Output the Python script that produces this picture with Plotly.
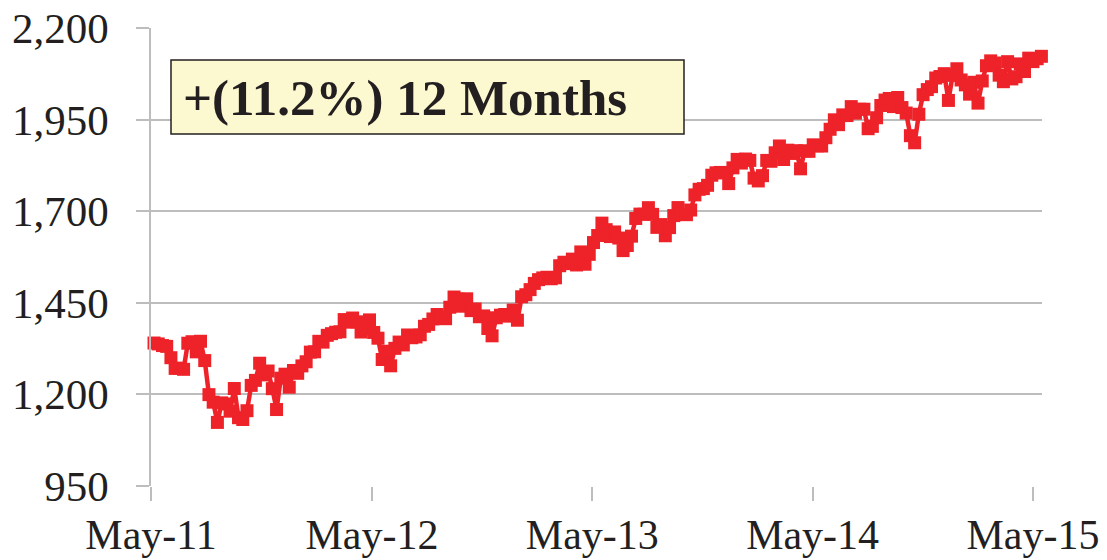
import plotly.graph_objects as go
import pandas as pd

# Weekly closes (Friday), May 2011 - May 2015
start_date = "2011-05-06"
values = [
    # 2011
    1340.20, 1337.77, 1333.27, 1331.10, 1300.16, 1270.98, 1271.50, 1268.45,
    1339.67, 1343.80, 1316.14, 1345.02, 1292.28, 1199.38, 1178.81, 1123.53,
    1176.80, 1173.97, 1154.23, 1216.01, 1136.43, 1131.42, 1155.46, 1224.58,
    1238.25, 1285.09, 1253.23, 1263.85, 1215.65, 1158.67, 1244.28, 1255.19,
    1219.66, 1265.33, 1257.60,
    # 2012
    1277.81, 1289.09, 1315.38, 1316.33, 1344.90, 1342.64, 1361.23, 1365.74,
    1369.63, 1370.87, 1404.17, 1397.11, 1408.47, 1398.08, 1370.26, 1378.53,
    1403.36, 1369.10, 1353.39, 1295.22, 1317.82, 1278.04, 1325.66, 1342.84,
    1335.02, 1362.16, 1354.68, 1356.78, 1362.66, 1385.97, 1390.99, 1405.87,
    1418.16, 1411.13, 1406.58, 1437.92, 1465.77, 1460.15, 1440.67, 1460.93,
    1428.59, 1433.19, 1411.94, 1414.20, 1379.85, 1359.88, 1409.15, 1416.18,
    1418.07, 1413.58, 1430.15, 1402.43,
    # 2013
    1466.47, 1472.05, 1485.98, 1502.96, 1513.17, 1517.93, 1519.79, 1515.60,
    1518.20, 1551.18, 1560.70, 1556.89, 1569.19, 1553.28, 1588.85, 1555.25,
    1582.24, 1614.42, 1633.70, 1667.47, 1649.60, 1630.74, 1643.38, 1626.73,
    1592.43, 1606.28, 1631.89, 1680.19, 1692.09, 1691.65, 1709.67, 1691.42,
    1655.83, 1663.50, 1632.97, 1655.17, 1687.99, 1709.91, 1691.75, 1690.50,
    1703.20, 1744.50, 1759.77, 1761.64, 1770.61, 1798.18, 1804.76, 1805.81,
    1805.09, 1775.32, 1818.32, 1841.40,
    # 2014
    1831.37, 1842.37, 1838.70, 1790.29, 1782.59, 1797.02, 1838.63, 1836.25,
    1859.45, 1878.04, 1841.13, 1866.52, 1857.62, 1865.09, 1815.69, 1864.85,
    1863.40, 1881.14, 1878.48, 1877.86, 1900.53, 1923.57, 1949.44, 1936.16,
    1962.87, 1960.96, 1985.44, 1967.57, 1978.22, 1978.34, 1925.15, 1931.59,
    1955.06, 1988.40, 2003.37, 2007.71, 1985.54, 2010.40, 1982.85, 1967.90,
    1906.13, 1886.76, 1964.58, 2018.05, 2031.92, 2039.82, 2063.50, 2067.56,
    2075.37, 2002.33, 2070.65, 2088.77,
    # 2015
    2058.20, 2044.81, 2019.42, 2051.82, 1994.99, 2055.47, 2096.99, 2110.30,
    2104.50, 2071.26, 2053.40, 2108.10, 2061.02, 2066.96, 2102.06, 2081.18,
    2117.69, 2108.29, 2116.10, 2122.73,
]
dates = pd.date_range(start_date, periods=len(values), freq="7D")

tick_dates = ["2011-05-01", "2012-05-01", "2013-05-01", "2014-05-01", "2015-05-01"]
tick_labels = ["May-11", "May-12", "May-13", "May-14", "May-15"]
y_ticks = [950, 1200, 1450, 1700, 1950, 2200]
note_text = "+(11.2%) 12 Months"

RED = "#EE2229"
GRID = "#BDBDBD"
FONT = "Liberation Serif, Times New Roman, serif"

fig = go.Figure()
fig.add_trace(go.Scatter(
    x=dates, y=values, mode="lines+markers",
    line=dict(color=RED, width=4.5),
    marker=dict(symbol="square", size=13, color=RED),
    hoverinfo="skip", showlegend=False, cliponaxis=False,
))

fig.update_layout(
    width=1107, height=560,
    margin=dict(l=151, r=65, t=28, b=74),
    paper_bgcolor="white", plot_bgcolor="white",
    font=dict(family=FONT, color="#231F20"),
    xaxis=dict(
        type="date", range=["2011-05-01", "2015-05-16"],
        tickvals=tick_dates, ticktext=tick_labels,
        tickfont=dict(size=42, family=FONT, color="#231F20"),
        showgrid=False, zeroline=False,
        showline=False, automargin=False,
        ticks="outside", ticklen=14, tickcolor=GRID, tickwidth=1.5,
        ticklabelstandoff=-2,
    ),
    yaxis=dict(
        range=[950, 2200], tickvals=y_ticks, tickformat=",",
        tickfont=dict(size=43, family=FONT, color="#231F20"),
        showgrid=True, gridcolor=GRID, gridwidth=1.5,
        zeroline=False, automargin=False,
        showline=True, linecolor=GRID, linewidth=1.5,
        ticks="outside", ticklen=13, tickcolor=GRID, tickwidth=1.5,
        ticklabelstandoff=19,
    ),
)

# annotation box
fig.add_shape(
    type="rect", xref="paper", yref="paper",
    x0=(171 - 151) / 891, x1=(684 - 151) / 891,
    y0=(486 - 134) / 458, y1=(486 - 60) / 458,
    fillcolor="#FCF8CF", line=dict(color="#231F20", width=1.5),
    layer="above",
)
fig.add_annotation(
    xref="paper", yref="paper",
    x=(181 - 151) / 891, y=(486 - 98) / 458,
    xanchor="left", yanchor="middle",
    text=f"<b>{note_text}</b>", showarrow=False,
    font=dict(size=51, family=FONT, color="#231F20"),
)

fig.write_html(
    "out.html",
    config={"displayModeBar": False},
    post_script="document.body.style.margin='0px';document.body.style.overflow='hidden';",
)
